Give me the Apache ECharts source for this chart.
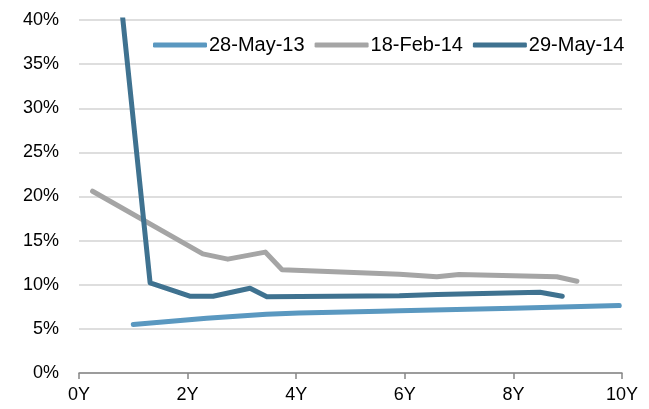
<!DOCTYPE html>
<html>
<head>
<meta charset="utf-8">
<script src="https://cdn.jsdelivr.net/npm/echarts@6/dist/echarts.min.js"></script>
<style>
  html, body { margin: 0; padding: 0; background: #ffffff; }
  #chart { width: 649px; height: 409px; }
</style>
</head>
<body>
<div id="chart"></div>
<script>
// Curve dates (legend order)
const seriesNames = ['28-May-13', '18-Feb-14', '29-May-14'];

// Tenors in years and curve values in percent
const tenorsMay13 = [1.0, 2.35, 3.45, 4.05, 5.55, 5.9, 8.0, 9.95];
const valuesMay13 = [5.5, 6.2, 6.65, 6.8, 7.0, 7.05, 7.35, 7.65];

const tenorsFeb14 = [0.25, 2.28, 2.74, 3.43, 3.74, 5.9, 6.59, 7.0, 8.8, 9.17];
const valuesFeb14 = [20.6, 13.5, 12.9, 13.7, 11.7, 11.2, 10.9, 11.15, 10.9, 10.4];

const tenorsMay14 = [0.75, 1.31, 2.04, 2.47, 3.15, 3.46, 5.9, 6.6, 8.49, 8.9];
const valuesMay14 = [43.5, 10.2, 8.7, 8.7, 9.6, 8.65, 8.75, 8.9, 9.15, 8.7];

// Axis ticks
const xTicks = [0, 2, 4, 6, 8, 10];
const yTicks = [0, 5, 10, 15, 20, 25, 30, 35, 40];

const colors = ['#5a98c0', '#a5a5a5', '#3f7290'];

function pairs(xs, ys) {
  return xs.map((x, i) => [x, ys[i]]);
}

const chart = echarts.init(document.getElementById('chart'), null, { renderer: 'canvas' });
const font = '"Liberation Sans", Arial, sans-serif';

chart.setOption({
  animation: false,
  backgroundColor: '#ffffff',
  color: colors,
  grid: { left: 79, right: 27, top: 20, bottom: 36, containLabel: false },
  legend: {
    data: seriesNames,
    top: 30,
    left: 148,
    icon: 'roundRect',
    itemWidth: 54,
    itemHeight: 5,
    itemGap: 10,
    textStyle: { fontFamily: font, fontSize: 20, color: '#000000', padding: [0, 0, 0, -3] }
  },
  xAxis: {
    type: 'value',
    min: xTicks[0],
    max: xTicks[xTicks.length - 1],
    interval: 2,
    axisLine: { show: true, lineStyle: { color: '#868686', width: 1.5 } },
    axisTick: { show: true, length: 6, lineStyle: { color: '#868686', width: 1.5 } },
    splitLine: { show: false },
    axisLabel: {
      margin: 13,
      fontFamily: font,
      fontSize: 18,
      color: '#000000',
      formatter: '{value}Y'
    }
  },
  yAxis: {
    type: 'value',
    min: yTicks[0],
    max: yTicks[yTicks.length - 1],
    interval: 5,
    axisLine: { show: false },
    axisTick: { show: false },
    splitLine: { show: true, lineStyle: { color: '#d3d3d3', width: 1.5 } },
    axisLabel: {
      margin: 20,
      fontFamily: font,
      fontSize: 18,
      color: '#000000',
      formatter: '{value}%'
    }
  },
  series: [
    { name: seriesNames[0], data: pairs(tenorsMay13, valuesMay13) },
    { name: seriesNames[1], data: pairs(tenorsFeb14, valuesFeb14) },
    { name: seriesNames[2], data: pairs(tenorsMay14, valuesMay14) }
  ].map(s => ({
    name: s.name,
    type: 'line',
    data: s.data,
    showSymbol: false,
    symbol: 'none',
    clip: true,
    lineStyle: { width: 5, cap: 'round', join: 'round' }
  }))
});
</script>
</body>
</html>
